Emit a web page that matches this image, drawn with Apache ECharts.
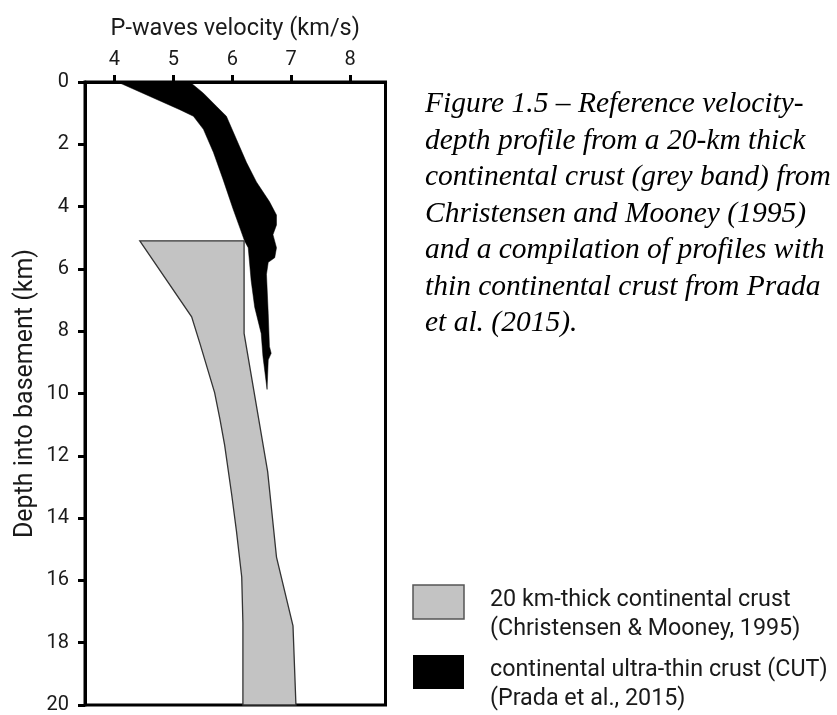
<!DOCTYPE html>
<html>
<head>
<meta charset="utf-8">
<script src="https://cdn.jsdelivr.net/npm/echarts@6/dist/echarts.min.js"></script>
<style>
  html, body { margin: 0; padding: 0; background: #fff; }
  #chart { width: 837px; height: 715px; }
</style>
</head>
<body>
<div id="chart"></div>
<script>
// Velocity (km/s) vs depth into basement (km)
const velocityTicks = [4, 5, 6, 7, 8];
const depthTicks = [0, 2, 4, 6, 8, 10, 12, 14, 16, 18, 20];

// 20 km-thick continental crust band (Christensen & Mooney, 1995)
const crustLeftEdge = [
  [4.43, 5.1], [5.31, 7.54], [5.45, 8.39], [5.70, 9.97], [5.79, 10.82],
  [5.87, 11.66], [5.99, 13.25], [6.07, 14.41], [6.16, 15.89], [6.18, 17.37], [6.18, 20]
];
const crustRightEdge = [
  [6.20, 5.1], [6.20, 8.07], [6.60, 12.51], [6.75, 15.25], [7.03, 17.46], [7.08, 20]
];

// Continental ultra-thin crust envelope (Prada et al., 2015)
const cutRightEdge = [
  [5.28, 0], [5.51, 0.36], [5.73, 0.78], [5.90, 1.10], [6.07, 1.84], [6.24, 2.58],
  [6.41, 3.21], [6.63, 3.84], [6.75, 4.27], [6.75, 4.59], [6.69, 4.90], [6.75, 5.32],
  [6.72, 5.64], [6.61, 5.79], [6.58, 6.17], [6.61, 7.44], [6.63, 8.49], [6.66, 8.71],
  [6.61, 8.92], [6.59, 9.87]
];
const cutLeftEdge = [
  [4.07, 0], [4.10, 0.04], [5.11, 0.89], [5.34, 1.10], [5.51, 1.52], [5.68, 2.26],
  [5.84, 3.11], [6.01, 4.06], [6.13, 4.69], [6.21, 5.11], [6.27, 5.32], [6.32, 6.38],
  [6.38, 7.23], [6.49, 8.07], [6.52, 8.81]
];

const seriesNames = ['20 km-thick continental crust', 'continental ultra-thin crust (CUT)'];
const seriesSources = ['(Christensen & Mooney, 1995)', '(Prada et al., 2015)'];

const crustPolygon = crustLeftEdge.concat(crustRightEdge.slice().reverse());
const cutPolygon = cutRightEdge.concat(cutLeftEdge.slice().reverse());

function areaSeries(name, points, style, z) {
  return {
    type: 'custom',
    name: name,
    coordinateSystem: 'cartesian2d',
    z: z,
    silent: true,
    data: points,
    encode: { x: 0, y: 1 },
    renderItem: function (params, api) {
      if (params.dataIndex !== 0) return null;
      return {
        type: 'polygon',
        shape: { points: points.map(function (p) { return api.coord(p); }) },
        style: style
      };
    }
  };
}

const textColor = '#1a1a1a';
const chart = echarts.init(document.getElementById('chart'), null, { renderer: 'canvas' });

chart.setOption({
  animation: false,
  backgroundColor: '#fff',
  textStyle: { fontFamily: 'Roboto' },
  grid: {
    left: 85, top: 82, right: 451.5, bottom: 2,
    show: true, borderColor: '#000', borderWidth: 3, backgroundColor: 'transparent'
  },
  xAxis: {
    type: 'value', position: 'top',
    min: 3.5, max: 8.6,
    name: 'P-waves velocity (km/s)', nameLocation: 'middle', nameGap: 41,
    nameTextStyle: { fontSize: 23.5, color: textColor, fontFamily: 'Roboto' },
    splitLine: { show: false },
    axisLine: { show: true, lineStyle: { color: '#000', width: 3 } },
    axisTick: { show: true, length: 7, lineStyle: { color: '#000', width: 3 }, customValues: velocityTicks },
    axisLabel: { fontSize: 20, color: textColor, margin: 12, customValues: velocityTicks, fontFamily: 'Roboto' }
  },
  yAxis: {
    type: 'value', inverse: true,
    min: 0, max: 20,
    name: 'Depth into basement (km)', nameLocation: 'middle', nameGap: 47, nameRotate: 90,
    nameTextStyle: { fontSize: 25, color: textColor, fontFamily: 'Roboto' },
    splitLine: { show: false },
    axisLine: { show: true, lineStyle: { color: '#000', width: 3 } },
    axisTick: { show: true, length: 7, lineStyle: { color: '#000', width: 3 }, customValues: depthTicks },
    axisLabel: { fontSize: 20, color: textColor, margin: 16, customValues: depthTicks, fontFamily: 'Roboto' }
  },
  series: [
    areaSeries(seriesNames[1], cutPolygon, { fill: '#000', stroke: '#000', lineWidth: 0.5 }, 2),
    areaSeries(seriesNames[0], crustPolygon, { fill: '#c3c3c3', stroke: '#333', lineWidth: 1.3 }, 3)
  ],
  graphic: [
    {
      type: 'text', left: 425, top: 86,
      style: {
        text: 'Figure 1.5 – Reference velocity-\ndepth profile from a 20-km thick\ncontinental crust (grey band) from\nChristensen and Mooney (1995)\nand a compilation of profiles with\nthin continental crust from Prada\net al. (2015).',
        fontFamily: 'Liberation Serif', fontStyle: 'italic', fontSize: 29.5, lineHeight: 36.5,
        fill: '#000'
      }
    },
    { type: 'rect', shape: { x: 413, y: 585, width: 51, height: 34 },
      style: { fill: '#c3c3c3', stroke: '#555', lineWidth: 1.5 } },
    { type: 'text', left: 490, top: 586,
      style: { text: seriesNames[0] + '\n' + seriesSources[0], fontFamily: 'Roboto', fontSize: 23.3, lineHeight: 29, fill: textColor } },
    { type: 'rect', shape: { x: 413, y: 655, width: 51, height: 34 },
      style: { fill: '#000' } },
    { type: 'text', left: 490, top: 656,
      style: { text: seriesNames[1] + '\n' + seriesSources[1], fontFamily: 'Roboto', fontSize: 23.3, lineHeight: 29, fill: textColor } }
  ]
});
</script>
</body>
</html>
